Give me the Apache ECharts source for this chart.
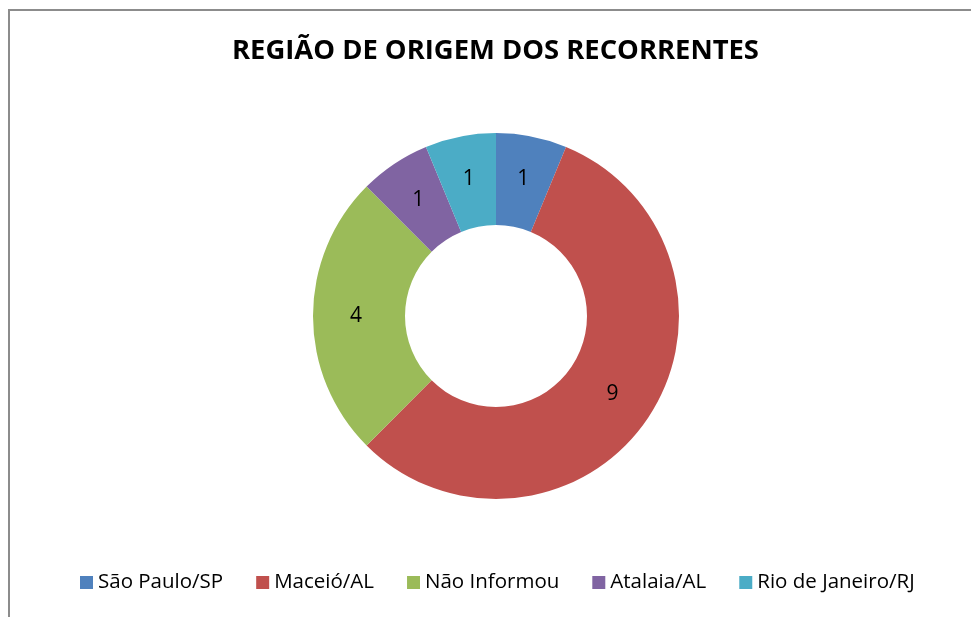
<!DOCTYPE html>
<html>
<head>
<meta charset="utf-8">
<title>Região de origem</title>
<script src="https://cdn.jsdelivr.net/npm/echarts@6/dist/echarts.min.js"></script>
<style>
	*{margin:0;padding:0;}
	body{width:971px;height:617px;overflow:hidden;background:#fff;position:relative;}
	.frame{position:absolute;left:8px;top:9px;width:1100px;height:800px;border-left:2px solid #8c8c8c;border-top:2px solid #8c8c8c;}
	#chart{position:absolute;left:0;top:0;width:971px;height:617px;}
</style>
</head>
<body>
<div class="frame"></div>
<div id="chart"></div>
<script>
// dados
var regioes = ['São Paulo/SP', 'Maceió/AL', 'Não Informou', 'Atalaia/AL', 'Rio de Janeiro/RJ'];
var quantidades = [1, 9, 4, 1, 1];
var cores = ['#4F81BD', '#C0504D', '#9BBB59', '#8064A2', '#4BACC6'];

var dados = [];
for (var i = 0; i < regioes.length; i++) {
	dados.push({value: quantidades[i], name: regioes[i], itemStyle: {color: cores[i]}});
}

var myChart = echarts.init(document.getElementById('chart'));
var option = {
	backgroundColor: 'transparent',
	animation: false,
	title: {
		text: 'REGIÃO DE ORIGEM DOS RECORRENTES',
		left: 227,
		top: 33,
		textStyle: {
			fontFamily: 'Open Sans',
			fontWeight: 'bold',
			fontSize: 27.4,
			color: '#000'
		}
	},
	legend: {
		top: 567,
		left: 75,
		itemWidth: 13,
		itemHeight: 13,
		itemGap: 33,
		icon: 'rect',
		textStyle: {
			fontFamily: 'Open Sans',
			fontSize: 20.5,
			color: '#000'
		},
		data: regioes
	},
	series: [
		{
			name: 'Região',
			type: 'pie',
			radius: [91, 183],
			center: [496, 316],
			startAngle: 90,
			clockwise: true,
			data: dados,
			label: {
				show: true,
				position: 'inside',
				formatter: '{c}',
				fontFamily: 'Open Sans',
				fontSize: 21,
				color: '#000'
			},
			labelLine: {show: false},
			itemStyle: {borderWidth: 0}
		}
	]
};
myChart.setOption(option);
</script>
</body>
</html>
